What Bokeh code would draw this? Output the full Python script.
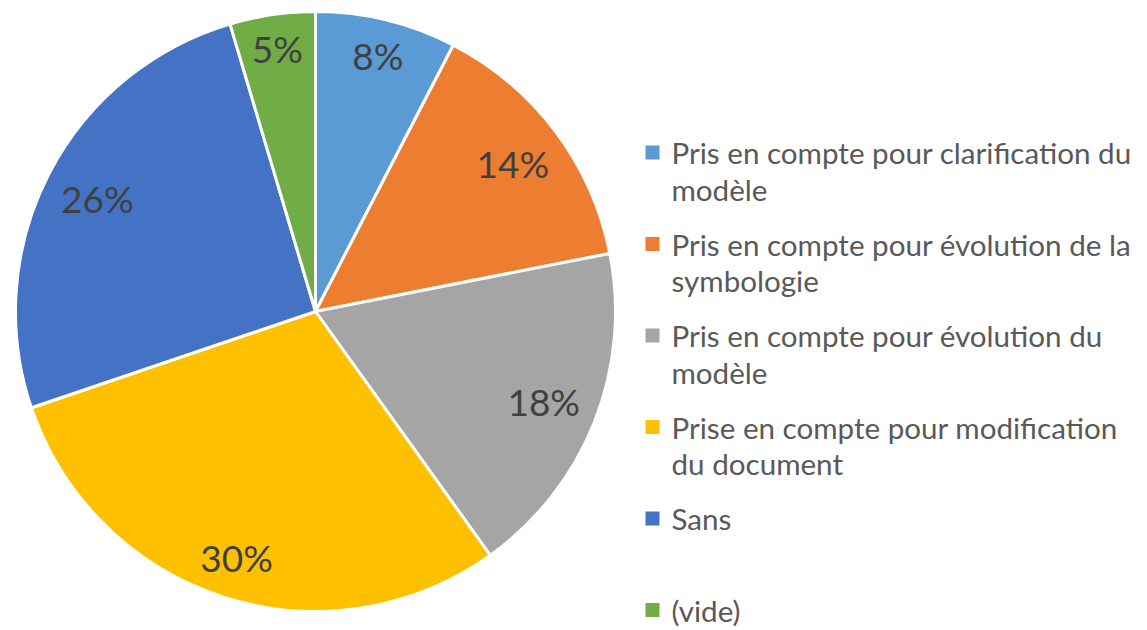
import math
from bokeh.plotting import figure
from bokeh.models import Range1d, ColumnDataSource
from bokeh.core.properties import value
from bokeh.embed import file_html
from bokeh.resources import INLINE

# ---- data ----
categories = [
    "Pris en compte pour clarification du modèle",
    "Pris en compte pour évolution de la symbologie",
    "Pris en compte pour évolution du modèle",
    "Prise en compte pour modification du document",
    "Sans",
    "(vide)",
]
legend_lines = [
    ["Pris en compte pour clarification du", "modèle"],
    ["Pris en compte pour évolution de la", "symbologie"],
    ["Pris en compte pour évolution du", "modèle"],
    ["Prise en compte pour modification", "du document"],
    ["Sans", ""],
    ["(vide)", ""],
]
shares = [7.6, 14.3, 18.2, 29.7, 25.6, 4.6]
colors = ["#5B9BD5", "#ED7D31", "#A5A5A5", "#FFC000", "#4472C4", "#70AD47"]

W, H = 1147, 630
FONT = "Lato"
LABEL_FS = 37

p = figure(width=W, height=H, output_backend="svg", toolbar_location=None,
           x_range=Range1d(0, W), y_range=Range1d(0, H), min_border=0)
p.axis.visible = False
p.grid.visible = False
p.outline_line_color = None

cx, cy, r = 315, H - 311, 300
R_in = 284  # labels sit just inside the outer edge ("inside end")

total = sum(shares)
starts, ends, lx, ly, labels = [], [], [], [], []
cum = 0.0
for s in shares:
    a0 = cum / total * 2 * math.pi
    cum += s
    a1 = cum / total * 2 * math.pi
    # clockwise from top
    starts.append(math.pi / 2 - a1)
    ends.append(math.pi / 2 - a0)
    mid = (a0 + a1) / 2
    lab = f"{round(s / total * 100)}%"
    labels.append(lab)
    ux, uy = math.sin(mid), math.cos(mid)
    w = ((len(lab) - 1) * 0.58 + 0.78) * LABEL_FS
    h = 0.76 * LABEL_FS
    c = (math.copysign(w / 2, ux), math.copysign(h / 2, uy))
    uc = ux * c[0] + uy * c[1]
    d = -uc + math.sqrt(uc * uc - (c[0] ** 2 + c[1] ** 2) + R_in ** 2)
    lx.append(cx + d * ux)
    ly.append(cy + d * uy)

src = ColumnDataSource(dict(start=starts, end=ends, color=colors))
p.wedge(x=cx, y=cy, radius=r, start_angle="start", end_angle="end",
        fill_color="color", line_color="white", line_width=3, source=src)

p.text(x=lx, y=ly, text=labels, text_align="center", text_baseline="middle",
       text_font=value(FONT), text_font_size=f"{LABEL_FS}px", text_color="#404040")

# ---- legend ----
leg_x_sq, leg_x_txt = 652, 671
y0, step, line_h = 152, 91.5, 36.5
sq_x, sq_y, tx, ty, tt = [], [], [], [], []
for i, lines in enumerate(legend_lines):
    yy = y0 + i * step
    sq_x.append(leg_x_sq)
    sq_y.append(H - yy)
    for j, t in enumerate(lines):
        if t:
            tx.append(leg_x_txt)
            ty.append(H - (yy + j * line_h))
            tt.append(t)
p.rect(x=sq_x, y=sq_y, width=14, height=14, fill_color=colors, line_color=None)
p.text(x=tx, y=ty, text=tt, text_align="left", text_baseline="middle",
       text_font=value(FONT), text_font_size="29.6px", text_color="#595959")

open("out.html", "w").write(file_html(p, INLINE))
